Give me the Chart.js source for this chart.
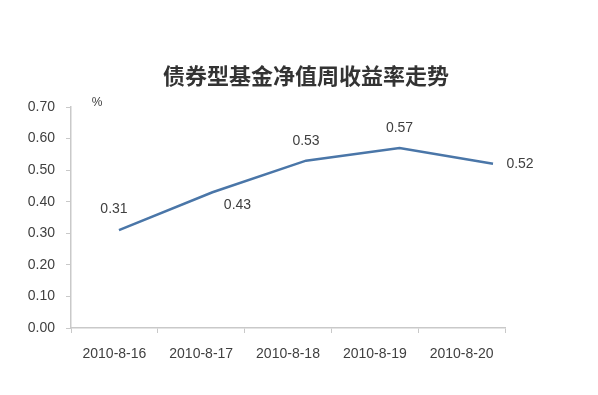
<!DOCTYPE html>
<html>
<head>
<meta charset="utf-8">
<script src="https://cdn.jsdelivr.net/npm/chart.js@4/dist/chart.umd.min.js"></script>
<style>
  html, body { margin: 0; padding: 0; background: #fff; }
  #wrap { width: 598px; height: 395px; }
</style>
</head>
<body>
<div id="wrap"><canvas id="c"></canvas></div>
<script>
const title = "债券型基金净值周收益率走势"
const dates = ["2010-8-16", "2010-8-17", "2010-8-18", "2010-8-19", "2010-8-20"]
const yields = [0.31, 0.43, 0.53, 0.57, 0.52]
const yTicks = [0, 0.1, 0.2, 0.3, 0.4, 0.5, 0.6, 0.7]
const unit = "%"

// where each value label sits relative to its point
const LABEL_OFFSETS = [[-5, -21], [25, 13], [0, -20], [0, -20], [27, 0]]
const TEXT = "#404040"
const AXIS = "#c9c9c9"
const FONT = "'Liberation Sans', Arial, sans-serif"

const extras = {
  id: "extras",
  afterDatasetsDraw(chart) {
    const ctx = chart.ctx
    const meta = chart.getDatasetMeta(0)
    ctx.save()
    ctx.fillStyle = TEXT
    ctx.font = "14px " + FONT
    ctx.textAlign = "center"
    ctx.textBaseline = "middle"
    meta.data.forEach((pt, i) => {
      const [dx, dy] = LABEL_OFFSETS[i]
      ctx.fillText(yields[i].toFixed(2), pt.x + dx, pt.y + dy)
    })
    // unit next to the value axis
    ctx.font = "12px " + FONT
    ctx.fillText(unit, chart.chartArea.left + 26, chart.chartArea.top - 4)
    // chart title
    ctx.fillStyle = "#333"
    ctx.font = "bold 22px 'Noto Sans CJK SC', sans-serif"
    ctx.fillText(title, 306, 76)
    ctx.restore()
  },
}

new Chart(document.getElementById("c"), {
  type: "line",
  data: {
    labels: dates,
    datasets: [
      {
        data: yields.map((v, i) => ({ x: i, y: v })),
        xAxisID: "xv",
        borderColor: "#4a76a8",
        borderWidth: 2.5,
        pointRadius: 0,
        tension: 0,
      },
    ],
  },
  options: {
    responsive: true,
    maintainAspectRatio: false,
    animation: false,
    layout: { padding: { top: 107, left: 0, right: 93, bottom: 27 } },
    plugins: { legend: false, tooltip: { enabled: false } },
    scales: {
      x: {
        type: "category",
        offset: true,
        grid: { offset: true, drawOnChartArea: false, drawTicks: true, tickLength: 5, color: AXIS },
        border: { color: AXIS, width: 1.5 },
        ticks: { color: TEXT, font: { size: 14, family: FONT }, padding: 13, maxRotation: 0 },
        afterFit: (s) => { s.height = 40 },
      },
      xv: {
        type: "linear",
        display: false,
        min: -0.513,
        max: 4.128,
      },
      y: {
        min: yTicks[0],
        max: yTicks[yTicks.length - 1],
        afterBuildTicks: (s) => { s.ticks = yTicks.map((v) => ({ value: v })) },
        grid: { drawOnChartArea: false, drawTicks: true, tickLength: 5, color: AXIS },
        border: { color: AXIS, width: 1.5 },
        ticks: {
          color: TEXT,
          font: { size: 14, family: FONT },
          padding: 11,
          callback: (v) => v.toFixed(2),
        },
        afterFit: (s) => { s.width = 71 },
      },
    },
  },
  plugins: [extras],
})
</script>
</body>
</html>
